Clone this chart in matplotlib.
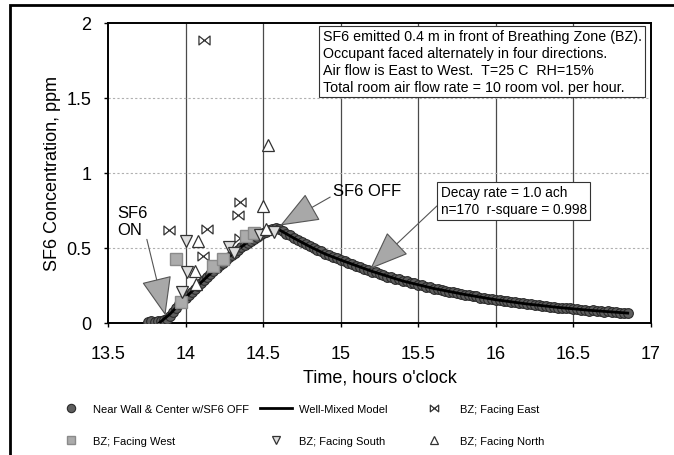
import matplotlib
matplotlib.use("Agg")
import matplotlib.pyplot as plt
from matplotlib.path import Path
from matplotlib.patches import Rectangle

plt.rcParams['font.family'] = ['Liberation Sans', 'DejaVu Sans']

# ---- data ----
wall_t = [13.76, 13.78, 13.80, 13.82, 13.84, 13.86, 13.88, 13.90, 13.92, 13.94, 13.96,
          13.98, 14.00, 14.02, 14.04, 14.06, 14.08, 14.10, 14.12, 14.14, 14.16, 14.18,
          14.20, 14.22, 14.24, 14.26, 14.28, 14.30, 14.32, 14.34, 14.36, 14.38, 14.40,
          14.42, 14.44, 14.46, 14.48, 14.50, 14.52, 14.54, 14.56, 14.58,
          14.600, 14.625, 14.650, 14.675, 14.700, 14.725, 14.750, 14.775, 14.800,
          14.825, 14.850, 14.875, 14.900, 14.925, 14.950, 14.975, 15.000, 15.025,
          15.050, 15.075, 15.100, 15.125, 15.150, 15.175, 15.200, 15.225, 15.250,
          15.275, 15.300, 15.325, 15.350, 15.375, 15.400, 15.425, 15.450, 15.475,
          15.500, 15.525, 15.550, 15.575, 15.600, 15.625, 15.650, 15.675, 15.700,
          15.725, 15.750, 15.775, 15.800, 15.825, 15.850, 15.875, 15.900, 15.925,
          15.950, 15.975, 16.000, 16.025, 16.050, 16.075, 16.100, 16.125, 16.150,
          16.175, 16.200, 16.225, 16.250, 16.275, 16.300, 16.325, 16.350, 16.375,
          16.400, 16.425, 16.450, 16.475, 16.500, 16.525, 16.550, 16.575, 16.600,
          16.625, 16.650, 16.675, 16.700, 16.725, 16.750, 16.775, 16.800, 16.825,
          16.850]
wall_c = [0.010, 0.012, 0.008, 0.015, 0.012, 0.020, 0.030, 0.050, 0.075, 0.100, 0.125,
          0.150, 0.170, 0.190, 0.210, 0.230, 0.250, 0.270, 0.290, 0.305, 0.325, 0.345,
          0.365, 0.385, 0.400, 0.420, 0.440, 0.455, 0.470, 0.490, 0.505, 0.520, 0.535,
          0.550, 0.560, 0.575, 0.590, 0.600, 0.610, 0.620, 0.630, 0.635,
          0.627, 0.615, 0.595, 0.585, 0.566, 0.556, 0.538, 0.530, 0.512,
          0.503, 0.487, 0.480, 0.463, 0.456, 0.440, 0.433, 0.419, 0.413,
          0.398, 0.392, 0.379, 0.373, 0.360, 0.355, 0.343, 0.338, 0.326,
          0.322, 0.310, 0.306, 0.295, 0.292, 0.280, 0.277, 0.266, 0.264,
          0.253, 0.251, 0.241, 0.239, 0.229, 0.227, 0.218, 0.216, 0.207,
          0.206, 0.197, 0.196, 0.187, 0.186, 0.178, 0.177, 0.169, 0.169,
          0.161, 0.161, 0.153, 0.153, 0.145, 0.146, 0.138, 0.139, 0.131,
          0.132, 0.125, 0.126, 0.119, 0.120, 0.113, 0.114, 0.107, 0.109,
          0.102, 0.103, 0.097, 0.098, 0.092, 0.094, 0.087, 0.089, 0.083,
          0.085, 0.079, 0.081, 0.075, 0.077, 0.071, 0.073, 0.068, 0.070,
          0.065]

model_t = [13.83, 13.90, 14.00, 14.10, 14.20, 14.30, 14.40, 14.50, 14.58,
           14.70, 14.80, 14.90, 15.00, 15.20, 15.40, 15.60, 15.80, 16.00,
           16.20, 16.40, 16.60, 16.85]
model_c = [0.00, 0.06, 0.17, 0.27, 0.37, 0.46, 0.54, 0.60, 0.635,
           0.565, 0.51, 0.46, 0.42, 0.345, 0.28, 0.23, 0.19, 0.155,
           0.127, 0.104, 0.085, 0.066]

east_t = [13.89, 14.12, 14.14, 14.11, 14.35, 14.34, 14.35]
east_c = [0.62, 1.89, 0.63, 0.45, 0.81, 0.72, 0.57]

west_t = [13.94, 13.97, 14.18, 14.24, 14.39, 14.44]
west_c = [0.43, 0.14, 0.38, 0.43, 0.58, 0.60]

south_t = [14.00, 14.01, 13.98, 14.28, 14.31, 14.48, 14.57]
south_c = [0.55, 0.34, 0.21, 0.51, 0.47, 0.59, 0.61]

north_t = [14.53, 14.50, 14.08, 14.06, 14.07, 14.52]
north_c = [1.19, 0.78, 0.55, 0.35, 0.26, 0.63]

x_ticks = [13.5, 14, 14.5, 15, 15.5, 16, 16.5, 17]
x_labels = ['13.5', '14', '14.5', '15', '15.5', '16', '16.5', '17']
y_ticks = [0, 0.5, 1, 1.5, 2]
y_labels = ['0', '0.5', '1', '1.5', '2']

# open bow-tie marker
bowtie = Path([(-1, -0.8), (1, 0.8), (1, -0.8), (-1, 0.8), (-1, -0.8)],
              [Path.MOVETO, Path.LINETO, Path.LINETO, Path.LINETO, Path.CLOSEPOLY])

# ---- figure ----
fig = plt.figure(figsize=(6.74, 4.56), dpi=100)
ax = fig.add_axes([108 / 674, 1 - 324 / 456, 543 / 674, 300 / 456])

ax.set_xlim(13.5, 17)
ax.set_ylim(0, 2)
ax.set_xticks(x_ticks)
ax.set_xticklabels(x_labels)
ax.set_yticks(y_ticks)
ax.set_yticklabels(y_labels)
ax.tick_params(axis='both', labelsize=13, length=3, width=1, direction='out')
ax.tick_params(axis='x', pad=12.5)
ax.tick_params(axis='y', pad=9)

for xv in x_ticks[1:-1]:
    ax.axvline(xv, color='#4a4a4a', lw=0.9, zorder=0)
for yv in y_ticks[1:-1]:
    ax.axhline(yv, color='#b0b0b0', lw=0.8, ls=(0, (2, 2)), zorder=0)

for s in ax.spines.values():
    s.set_linewidth(1.4)
    s.set_color('black')

h_wall, = ax.plot(wall_t, wall_c, 'o', ms=7, mfc='#5e5e5e', mec='#2a2a2a', mew=0.8,
                  ls='none', zorder=3, label='Near Wall & Center w/SF6 OFF')
h_model, = ax.plot(model_t, model_c, '-', color='black', lw=2, zorder=4,
                   label='Well-Mixed Model')
h_east, = ax.plot(east_t, east_c, ls='none', marker=bowtie, ms=8, mfc='none',
                  mec='#333333', mew=0.9, zorder=5, label='BZ; Facing East')
h_west, = ax.plot(west_t, west_c, 's', ms=8, mfc='#ababab', mec='#8a8a8a', ls='none',
                  zorder=5, label='BZ; Facing West')
h_south, = ax.plot(south_t, south_c, 'v', ms=8, mfc='#dddddd', mec='#333333', mew=0.9,
                   ls='none', zorder=5, label='BZ; Facing South')
h_north, = ax.plot(north_t, north_c, '^', ms=8, mfc='white', mec='#333333', mew=0.9,
                   ls='none', zorder=5, label='BZ; Facing North')

ax.set_xlabel("Time, hours o'clock", fontsize=13, labelpad=5)
ax.set_ylabel('SF6 Concentration, ppm', fontsize=13, labelpad=4)

# info box
ax.text(0.3955, 0.979,
        'SF6 emitted 0.4 m in front of Breathing Zone (BZ).\n'
        'Occupant faced alternately in four directions.\n'
        'Air flow is East to West.  T=25 C  RH=15%\n'
        'Total room air flow rate = 10 room vol. per hour.',
        transform=ax.transAxes, ha='left', va='top', fontsize=10.3, linespacing=1.25,
        bbox=dict(boxstyle='square,pad=0.25', fc='white', ec='#333333', lw=0.8),
        zorder=6)

arrow_kw = dict(arrowstyle='-|>,head_length=1.4,head_width=0.55', mutation_scale=18,
                fc='#a8a8a8', ec='#555555', lw=0.8, shrinkA=0, shrinkB=0)

ax.annotate('SF6\nON', xy=(13.87, 0.05), xytext=(13.56, 0.68), fontsize=12,
            ha='left', va='center', linespacing=1.1,
            arrowprops=dict(arrow_kw, relpos=(0.95, 0.0)), zorder=6)
ax.annotate('SF6 OFF', xy=(14.61, 0.65), xytext=(14.95, 0.88), fontsize=12,
            ha='left', va='center',
            arrowprops=dict(arrow_kw, relpos=(0.0, 0.2)), zorder=6)
ax.annotate('Decay rate = 1.0 ach\nn=170  r-square = 0.998', xy=(15.19, 0.36),
            xytext=(15.645, 0.815), fontsize=9.8, ha='left', va='center', linespacing=1.3,
            bbox=dict(boxstyle='square,pad=0.25', fc='white', ec='#333333', lw=0.8),
            arrowprops=dict(arrow_kw, relpos=(0.0, 0.45)), zorder=6)

# legend: three columns placed separately
leg_kw = dict(loc='upper left', frameon=False, fontsize=8, borderpad=0,
              borderaxespad=0, labelspacing=2.0)
y_top = 1 - 405 / 456
cols = [([h_wall, h_west], 57, 2.6, 0.6),
        ([h_model, h_south], 260, 2.9, 0.63),
        ([h_east, h_north], 420, 2.6, 1.0)]
for hs, x0, hl, tp in cols:
    lg = fig.legend(handles=hs, labels=[h.get_label() for h in hs],
                    bbox_to_anchor=(x0 / 674, y_top), handlelength=hl,
                    handletextpad=tp, **leg_kw)
    for lh in lg.legend_handles:
        lh.set_markersize(6)

# figure frame
fig.add_artist(Rectangle((10 / 674, -0.05), 1.0, 1 - 6 / 456 + 0.05,
                         transform=fig.transFigure, fill=False, ec='black', lw=2))

fig.savefig('out.png', dpi=100)
